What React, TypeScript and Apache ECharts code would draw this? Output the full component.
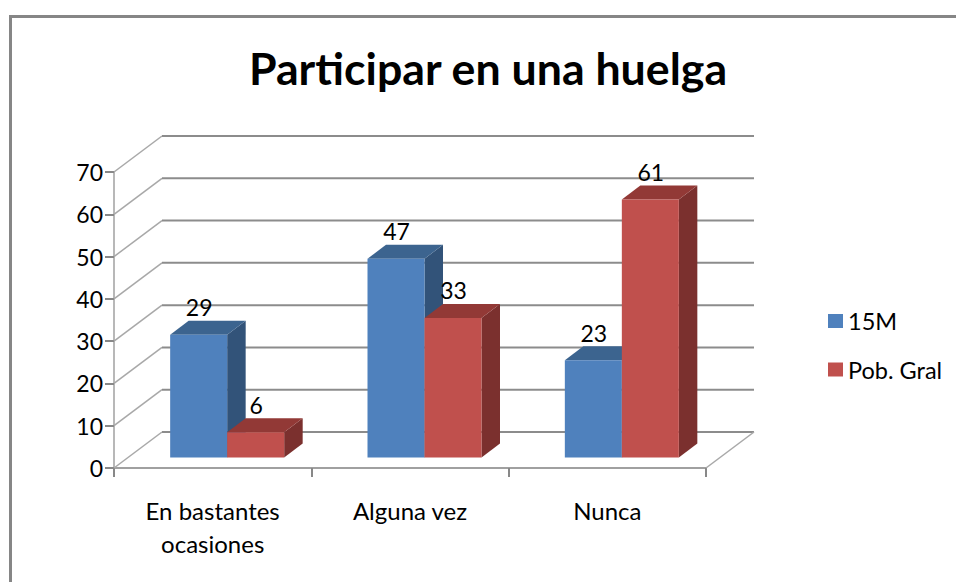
import React, { useEffect, useRef } from "react";
import * as echarts from "echarts";

const categories = ["En bastantes\nocasiones", "Alguna vez", "Nunca"];
const series15M = [29, 47, 23];
const seriesPobGral = [6, 33, 61];
const gridValues = [0, 10, 20, 30, 40, 50, 60, 70];

const FONT = "Lato";
const WALL_DX = 48;
const WALL_DY = -36;
const BAR_SHIFT_X = 14.5;
const BAR_SHIFT_Y = -10.5;
const BAR_DX = 18.5;
const BAR_DY = -14;
const BAR_WIDTH = 57;

function barRenderer(side: number, front: string, top: string, right: string) {
  return (_params: any, api: any) => {
    const cat = api.value(0);
    const val = api.value(1);
    const c = api.coord([cat, val]);
    const b = api.coord([cat, 0]);
    const x0 = c[0] + BAR_SHIFT_X + (side === 0 ? -BAR_WIDTH : 0);
    const x1 = x0 + BAR_WIDTH;
    const yt = c[1] + BAR_SHIFT_Y;
    const yb = b[1] + BAR_SHIFT_Y;
    const poly = (points: number[][], fill: string) => ({
      type: "polygon",
      shape: { points },
      style: { fill },
    });
    return {
      type: "group",
      children: [
        poly([[x1, yt], [x1 + BAR_DX, yt + BAR_DY], [x1 + BAR_DX, yb + BAR_DY], [x1, yb]], right),
        poly([[x0, yt], [x0 + BAR_DX, yt + BAR_DY], [x1 + BAR_DX, yt + BAR_DY], [x1, yt]], top),
        poly([[x0, yt], [x1, yt], [x1, yb], [x0, yb]], front),
        {
          type: "text",
          style: {
            x: (x0 + x1) / 2 + 0.5,
            y: yt - 27.5,
            text: String(val),
            fill: "#000",
            font: `23px ${FONT}`,
            align: "center",
            verticalAlign: "middle",
          },
          z2: 50,
        },
      ],
    };
  };
}

function wallRenderer(params: any, api: any) {
  const v = api.value(1);
  const cs = params.coordSys;
  const p = api.coord([0, v]);
  const xL = cs.x;
  const xR = cs.x + cs.width;
  const y = p[1];
  const children: any[] = [
    {
      type: "line",
      shape: { x1: xL, y1: y, x2: xL + WALL_DX, y2: y + WALL_DY },
      style: { stroke: "#a8a8a8", lineWidth: 1.5 },
    },
    {
      type: "line",
      shape: { x1: xL + WALL_DX, y1: y + WALL_DY, x2: xR + WALL_DX, y2: y + WALL_DY },
      style: { stroke: "#8c8c8c", lineWidth: 2 },
    },
  ];
  if (v === 0) {
    children.push({
      type: "line",
      shape: { x1: xR, y1: y, x2: xR + WALL_DX, y2: y + WALL_DY },
      style: { stroke: "#a8a8a8", lineWidth: 1.5 },
    });
  }
  return { type: "group", children };
}

export default function App() {
  const ref = useRef<HTMLDivElement>(null);
  useEffect(() => {
    const chart = echarts.init(ref.current!, undefined, { renderer: "svg" });
    chart.setOption({
      animation: false,
      backgroundColor: "#ffffff",
      title: {
        text: "Participar en una huelga",
        left: 483,
        top: 40,
        textAlign: "center",
        textStyle: { fontFamily: FONT, fontSize: 44.7, fontWeight: "bold", color: "#000" },
      },
      legend: {
        orient: "vertical",
        left: 823,
        top: 304,
        icon: "rect",
        itemWidth: 15,
        itemHeight: 14,
        itemGap: 24.5,
        data: ["15M", "Pob. Gral"],
        textStyle: { fontFamily: FONT, fontSize: 23.5, color: "#000" },
      },
      grid: { left: 114, right: 250, top: 172, bottom: 114, containLabel: false },
      xAxis: {
        type: "category",
        data: categories,
        axisLine: { lineStyle: { color: "#a0a0a0", width: 2 } },
        axisTick: { show: true, alignWithLabel: false, length: 9, lineStyle: { color: "#888", width: 2 } },
        axisLabel: { fontFamily: FONT, fontSize: 24, color: "#000", margin: 26, lineHeight: 33, interval: 0 },
      },
      yAxis: {
        type: "value",
        min: 0,
        max: 70,
        interval: 10,
        axisLine: { show: true, lineStyle: { color: "#b8b8b8", width: 2 } },
        axisTick: { show: true, length: 9, lineStyle: { color: "#888", width: 2 } },
        splitLine: { show: false },
        axisLabel: { fontFamily: FONT, fontSize: 23, color: "#000", margin: 11 },
      },
      graphic: [
        { type: "rect", shape: { x: 9, y: 15, width: 3, height: 567 }, style: { fill: "#868686" } },
        { type: "rect", shape: { x: 9, y: 15, width: 947, height: 3 }, style: { fill: "#868686" } },
      ],
      series: [
        {
          name: "wall",
          type: "custom",
          renderItem: wallRenderer,
          data: gridValues.map((v) => [0, v]),
          silent: true,
          z: 1,
        },
        {
          name: "15M",
          type: "custom",
          renderItem: barRenderer(0, "#4F81BD", "#3C648F", "#325379"),
          itemStyle: { color: "#4F81BD" },
          data: series15M.map((v, i) => [i, v]),
          encode: { x: 0, y: 1 },
          z: 2,
        },
        {
          name: "Pob. Gral",
          type: "custom",
          renderItem: barRenderer(1, "#C0504D", "#923936", "#7B302E"),
          itemStyle: { color: "#C0504D" },
          data: seriesPobGral.map((v, i) => [i, v]),
          encode: { x: 0, y: 1 },
          z: 3,
        },
      ],
    });
    return () => chart.dispose();
  }, []);
  return <div ref={ref} style={{ position: "fixed", left: 0, top: 0, width: 956, height: 582 }} />;
}
